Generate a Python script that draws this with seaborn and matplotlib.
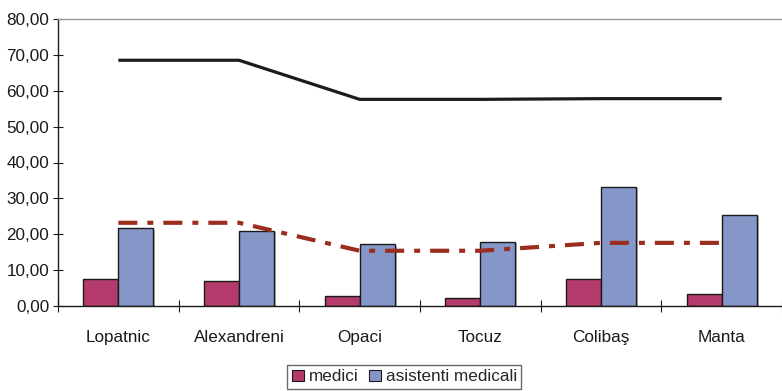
import numpy as np
import pandas as pd
import matplotlib
matplotlib.use("Agg")
import matplotlib.pyplot as plt
import matplotlib.patheffects as pe
from matplotlib.ticker import FuncFormatter, MultipleLocator
import seaborn as sns

# Localities and indicators
categories = ["Lopatnic", "Alexandreni", "Opaci", "Tocuz", "Colibaş", "Manta"]
medici = [7.4, 7.0, 2.8, 2.1, 7.6, 3.4]
asistenti = [21.7, 21.0, 17.2, 17.9, 33.3, 25.5]
line_black = [68.5, 68.5, 57.6, 57.6, 57.8, 57.8]
line_red = [23.2, 23.2, 15.4, 15.4, 17.6, 17.6]
series_names = ["medici", "asistenti medicali"]
bar_colors = ["#B33A6B", "#8597C9"]

sns.set_theme(style="white")
plt.rcParams["font.family"] = ["Liberation Sans Narrow", "Liberation Sans", "DejaVu Sans"]
plt.rcParams["lines.scale_dashes"] = False

df = pd.DataFrame({
    "loc": categories * 2,
    "val": medici + asistenti,
    "serie": [series_names[0]] * len(categories) + [series_names[1]] * len(categories),
})

fig = plt.figure(figsize=(7.82, 3.91), dpi=100)
ax = fig.add_axes([58 / 782, 1 - 306 / 391, 1 - 58 / 782, (306 - 19) / 391])

sns.barplot(data=df, x="loc", y="val", hue="serie", order=categories,
            hue_order=series_names, palette=bar_colors, width=0.58,
            edgecolor="#1a1a1a", linewidth=1.0, saturation=1, ax=ax, legend=False)
for p in ax.patches:
    p.set_path_effects([pe.SimplePatchShadow(offset=(1.5, -1), shadow_rgbFace="#888888", alpha=0.6),
                        pe.Normal()])

pos = np.arange(len(categories))
sns.lineplot(x=pos, y=line_black, color="#1c1c1c", linewidth=2.3, ax=ax,
             solid_capstyle="butt", sort=False)
red = sns.lineplot(x=pos, y=line_red, color="#9B2D1F", linewidth=3.0, ax=ax, sort=False)
red.lines[-1].set_dashes([13.7, 7.2, 4.3, 7.2])
red.lines[-1].set_dash_capstyle("butt")

ax.set_xlim(-0.5, len(categories) - 0.5)
ax.set_ylim(0, 80)
ax.yaxis.set_major_locator(MultipleLocator(10))
ax.yaxis.set_major_formatter(FuncFormatter(lambda v, _: f"{v:.2f}".replace(".", ",")))
ax.set_xticks(pos)
ax.set_xticklabels(categories)
ax.set_xlabel("")
ax.set_ylabel("")

# boundary ticks between categories
ax.set_xticks(np.arange(len(categories) + 1) - 0.5, minor=True)
ax.tick_params(axis="x", which="major", length=0, pad=17, labelsize=12.3, labelcolor="#1a1a1a")
ax.tick_params(axis="x", which="minor", direction="inout", length=8, width=0.8,
               color="#1a1a1a", bottom=True)
ax.tick_params(axis="y", direction="inout", length=6.5, width=0.8, color="#1a1a1a",
               left=True, labelsize=12.3, labelcolor="#1a1a1a", pad=3)

for side in ["left", "bottom"]:
    ax.spines[side].set_color("#1a1a1a")
    ax.spines[side].set_linewidth(1.0)
ax.spines["top"].set_color("#999999")
ax.spines["top"].set_linewidth(1.0)
ax.spines["right"].set_visible(False)

handles = [plt.Rectangle((0, 0), 1, 1, facecolor=c, edgecolor="#1a1a1a", linewidth=0.8)
           for c in bar_colors]
fig.legend(handles, series_names, loc="upper center", bbox_to_anchor=(0.517, 0.066),
           ncol=2, frameon=True, fancybox=False, edgecolor="#444444", fontsize=12.3,
           handlelength=0.7, handleheight=0.7, handletextpad=0.3, columnspacing=0.6,
           borderpad=0.25, borderaxespad=0)

fig.savefig("out.png", dpi=100)
